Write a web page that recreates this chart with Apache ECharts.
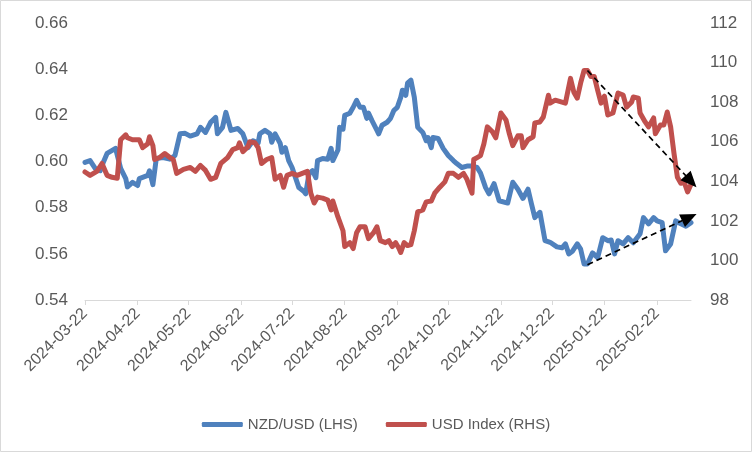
<!DOCTYPE html>
<html>
<head>
<meta charset="utf-8">
<script src="https://cdn.jsdelivr.net/npm/echarts@6/dist/echarts.min.js"></script>
<style>
html,body{margin:0;padding:0;background:#fff;}
#chart{width:752px;height:452px;}
</style>
</head>
<body>
<div id="chart"></div>
<script>
// Axis range (calendar days)
const startDate = '2024-03-22';
const endDate = '2025-03-14';
const leftTicks = { min: 0.54, max: 0.66, interval: 0.02 };
const rightTicks = { min: 98, max: 112, interval: 2 };
const seriesNames = ['NZD/USD (LHS)', 'USD Index (RHS)'];

// NZD/USD (left axis)
const nzdUsd = [
['2024-03-22',0.5996],['2024-03-25',0.6004],['2024-03-28',0.597],['2024-03-31',0.596],['2024-04-02',0.600],
['2024-04-04',0.6035],['2024-04-07',0.6048],['2024-04-09',0.6057],['2024-04-12',0.597],['2024-04-15',0.5926],
['2024-04-16',0.589],['2024-04-19',0.591],['2024-04-22',0.5896],['2024-04-23',0.5926],['2024-04-28',0.594],
['2024-04-29',0.596],['2024-05-01',0.590],['2024-05-03',0.6013],['2024-05-07',0.6017],['2024-05-11',0.601],
['2024-05-14',0.6026],['2024-05-17',0.612],['2024-05-20',0.6122],['2024-05-23',0.611],['2024-05-27',0.612],
['2024-05-29',0.6148],['2024-06-01',0.6126],['2024-06-04',0.617],['2024-06-07',0.6191],['2024-06-08',0.612],
['2024-06-11',0.6148],['2024-06-13',0.6213],['2024-06-16',0.6135],['2024-06-20',0.6143],['2024-06-23',0.612],
['2024-06-26',0.606],['2024-06-29',0.609],['2024-07-02',0.608],['2024-07-03',0.612],['2024-07-06',0.6135],
['2024-07-09',0.612],['2024-07-10',0.6083],['2024-07-12',0.612],['2024-07-15',0.6078],['2024-07-16',0.604],
['2024-07-18',0.606],['2024-07-20',0.6004],['2024-07-22',0.5974],['2024-07-24',0.593],['2024-07-26',0.5887],
['2024-07-29',0.587],['2024-07-30',0.586],['2024-08-01',0.5948],['2024-08-03',0.596],['2024-08-05',0.593],
['2024-08-06',0.6004],['2024-08-09',0.6013],['2024-08-12',0.601],['2024-08-14',0.6057],['2024-08-15',0.6004],
['2024-08-18',0.605],['2024-08-19',0.6148],['2024-08-21',0.614],['2024-08-22',0.620],['2024-08-25',0.6209],
['2024-08-27',0.6235],['2024-08-29',0.6265],['2024-08-31',0.6235],['2024-09-02',0.6235],['2024-09-04',0.6187],
['2024-09-05',0.621],['2024-09-07',0.6178],['2024-09-10',0.6135],['2024-09-11',0.612],['2024-09-13',0.6157],
['2024-09-16',0.617],['2024-09-18',0.6187],['2024-09-20',0.6222],['2024-09-22',0.6235],['2024-09-24',0.6278],
['2024-09-25',0.6309],['2024-09-27',0.6287],['2024-09-28',0.6339],['2024-09-30',0.6352],['2024-10-01',0.636],
['2024-10-02',0.6278],['2024-10-03',0.627],['2024-10-04',0.6148],['2024-10-07',0.6126],['2024-10-09',0.609],
['2024-10-10',0.6104],['2024-10-12',0.606],['2024-10-13',0.6104],['2024-10-16',0.610],['2024-10-19',0.6057],
['2024-10-20',0.606],['2024-10-22',0.6026],['2024-10-25',0.6004],['2024-10-27',0.5991],['2024-10-30',0.5974],
['2024-11-02',0.598],['2024-11-05',0.598],['2024-11-08',0.5974],['2024-11-10',0.595],['2024-11-13',0.5887],
['2024-11-15',0.586],['2024-11-18',0.5904],['2024-11-21',0.583],['2024-11-22',0.583],['2024-11-26',0.582],
['2024-11-29',0.591],['2024-12-02',0.588],['2024-12-05',0.584],['2024-12-08',0.588],['2024-12-10',0.5817],
['2024-12-12',0.5757],['2024-12-15',0.578],['2024-12-18',0.5657],['2024-12-21',0.565],['2024-12-25',0.563],
['2024-12-28',0.5626],['2024-12-30',0.5643],['2025-01-01',0.560],['2025-01-03',0.561],['2025-01-06',0.5643],
['2025-01-08',0.562],['2025-01-10',0.5556],['2025-01-12',0.5556],['2025-01-15',0.5604],['2025-01-18',0.5583],
['2025-01-21',0.567],['2025-01-24',0.5657],['2025-01-26',0.566],['2025-01-28',0.560],['2025-01-30',0.5657],
['2025-02-02',0.5643],['2025-02-05',0.567],['2025-02-08',0.5648],['2025-02-12',0.5687],['2025-02-14',0.5757],
['2025-02-17',0.573],['2025-02-20',0.5757],['2025-02-22',0.5743],['2025-02-25',0.5735],['2025-02-27',0.5613],
['2025-03-02',0.5643],['2025-03-05',0.5743],['2025-03-08',0.573],['2025-03-11',0.572],['2025-03-14',0.5735]
];

// USD Index (right axis)
const usdIndex = [
['2024-03-22',104.47],['2024-03-25',104.3],['2024-03-29',104.5],['2024-04-01',104.9],['2024-04-04',104.3],
['2024-04-07',104.2],['2024-04-10',104.15],['2024-04-12',106.1],['2024-04-15',106.35],['2024-04-16',106.2],
['2024-04-19',106.1],['2024-04-23',106.1],['2024-04-25',105.7],['2024-04-28',105.9],['2024-04-29',106.25],
['2024-05-01',105.8],['2024-05-02',105.1],['2024-05-05',105.2],['2024-05-08',105.4],['2024-05-11',105.2],
['2024-05-13',105.1],['2024-05-15',104.4],['2024-05-19',104.6],['2024-05-23',104.7],['2024-05-26',104.5],
['2024-05-29',104.8],['2024-06-01',104.55],['2024-06-04',104.1],['2024-06-07',104.2],['2024-06-10',104.9],
['2024-06-14',105.2],['2024-06-17',105.6],['2024-06-20',105.7],['2024-06-21',105.94],['2024-06-23',105.5],
['2024-06-26',105.75],['2024-06-27',106.0],['2024-06-30',105.95],['2024-07-02',105.7],['2024-07-04',104.9],
['2024-07-07',105.1],['2024-07-10',105.2],['2024-07-12',104.1],['2024-07-15',104.3],['2024-07-17',103.7],
['2024-07-19',104.3],['2024-07-22',104.4],['2024-07-25',104.3],['2024-07-28',104.4],['2024-07-31',104.5],
['2024-08-02',103.4],['2024-08-04',102.9],['2024-08-06',103.2],['2024-08-09',103.15],['2024-08-12',103.05],
['2024-08-14',102.55],['2024-08-15',103.0],['2024-08-18',102.2],['2024-08-21',101.5],['2024-08-22',100.7],
['2024-08-25',100.9],['2024-08-27',100.6],['2024-08-29',101.4],['2024-08-31',101.7],['2024-09-03',101.7],
['2024-09-05',101.1],['2024-09-08',101.4],['2024-09-10',101.7],['2024-09-12',101.0],['2024-09-15',100.9],
['2024-09-17',101.0],['2024-09-19',100.7],['2024-09-21',100.9],['2024-09-23',100.6],['2024-09-24',100.4],
['2024-09-26',100.9],['2024-09-28',100.75],['2024-09-30',100.8],['2024-10-02',101.5],['2024-10-04',102.45],
['2024-10-07',102.55],['2024-10-09',102.96],['2024-10-12',103.0],['2024-10-14',103.4],['2024-10-17',103.7],
['2024-10-20',103.97],['2024-10-22',104.4],['2024-10-25',104.4],['2024-10-28',104.2],['2024-10-31',104.4],
['2024-11-02',104.1],['2024-11-05',103.4],['2024-11-06',105.1],['2024-11-08',105.2],['2024-11-10',105.3],
['2024-11-12',105.9],['2024-11-14',106.75],['2024-11-17',106.5],['2024-11-19',106.2],['2024-11-22',107.45],
['2024-11-25',107.1],['2024-11-27',106.4],['2024-11-29',105.8],['2024-12-02',106.3],['2024-12-04',106.3],
['2024-12-05',105.7],['2024-12-08',106.1],['2024-12-11',106.25],['2024-12-12',106.95],['2024-12-15',107.0],
['2024-12-17',107.25],['2024-12-20',108.35],['2024-12-21',107.95],['2024-12-24',108.1],['2024-12-28',108.0],
['2024-12-30',107.95],['2025-01-02',109.2],['2025-01-04',108.5],['2025-01-06',108.2],['2025-01-08',108.97],
['2025-01-10',109.6],['2025-01-12',109.6],['2025-01-14',109.3],['2025-01-16',109.3],['2025-01-18',108.6],
['2025-01-20',107.95],['2025-01-22',108.3],['2025-01-24',107.35],['2025-01-27',107.45],['2025-01-30',108.46],
['2025-02-02',108.36],['2025-02-04',107.75],['2025-02-07',108.0],['2025-02-08',108.26],['2025-02-11',108.2],
['2025-02-12',107.45],['2025-02-15',107.0],['2025-02-17',106.75],['2025-02-20',107.2],['2025-02-21',106.4],
['2025-02-24',106.85],['2025-02-26',106.85],['2025-02-28',107.5],['2025-03-02',106.75],['2025-03-04',105.4],
['2025-03-06',104.2],['2025-03-08',103.9],['2025-03-10',103.95],['2025-03-12',103.46],['2025-03-14',103.85]
];

// Trend arrows drawn on the chart
const usdArrow = [['2025-01-12', 109.6], ['2025-03-14', 104.0]];
const nzdArrow = [['2025-01-12', 0.5553], ['2025-03-13', 0.5758]];

// Build the calendar-day categories for the date axis
function buildDays(a, b) {
  const out = [];
  let t = Date.parse(a + 'T00:00:00Z');
  const e = Date.parse(b + 'T00:00:00Z');
  while (t <= e) { out.push(new Date(t).toISOString().slice(0, 10)); t += 86400000; }
  return out;
}
const categories = buildDays(startDate, endDate);
const isTickDay = (i, v) => v.slice(8) === '22';

const FONT = '"Liberation Sans", Arial, sans-serif';
const TXT = '#595959';
const BLUE = '#4F81BD';
const RED = '#C0504D';

const chart = echarts.init(document.getElementById('chart'));
const arrowLine = (pts) => ({
  silent: true,
  symbol: ['none', 'triangle'],
  symbolSize: [14, 16],
  label: { show: false },
  lineStyle: { color: '#000', width: 1.7, type: [6, 4] },
  data: [[{ coord: pts[0] }, { coord: pts[1] }]]
});

chart.setOption({
  animation: false,
  backgroundColor: '#fff',
  graphic: [{
    type: 'rect', shape: { x: 0.5, y: 0.5, width: 751, height: 451 },
    style: { fill: 'none', stroke: '#d9d9d9', lineWidth: 1 }, silent: true
  }],
  grid: { left: 85, right: 61, top: 23, bottom: 152 },
  legend: {
    data: seriesNames,
    left: 'center', top: 412,
    icon: 'roundRect', itemWidth: 41, itemHeight: 5, itemGap: 28,
    textStyle: { fontFamily: FONT, fontSize: 15, color: TXT }
  },
  xAxis: {
    type: 'category', data: categories, boundaryGap: false,
    axisLine: { lineStyle: { color: '#d9d9d9', width: 1 } },
    axisTick: { show: true, interval: isTickDay, length: 5, lineStyle: { color: '#d9d9d9' } },
    axisLabel: { interval: isTickDay, rotate: 45, margin: 11, fontFamily: FONT, fontSize: 16, color: TXT },
    splitLine: { show: false }
  },
  yAxis: [{
    type: 'value', min: leftTicks.min, max: leftTicks.max, interval: leftTicks.interval,
    axisLine: { show: false }, axisTick: { show: false }, splitLine: { show: false },
    axisLabel: { margin: 17, fontFamily: FONT, fontSize: 17, color: TXT, formatter: v => v.toFixed(2) }
  }, {
    type: 'value', min: rightTicks.min, max: rightTicks.max, interval: rightTicks.interval,
    axisLine: { show: false }, axisTick: { show: false }, splitLine: { show: false },
    axisLabel: { margin: 19, fontFamily: FONT, fontSize: 17, color: TXT, formatter: v => String(Math.round(v)) }
  }],
  series: [{
    name: seriesNames[0], type: 'line', yAxisIndex: 0, data: nzdUsd,
    symbol: 'none', color: BLUE,
    lineStyle: { color: BLUE, width: 5, join: 'round', cap: 'round' },
    markLine: arrowLine(nzdArrow), z: 2
  }, {
    name: seriesNames[1], type: 'line', yAxisIndex: 1, data: usdIndex,
    symbol: 'none', color: RED,
    lineStyle: { color: RED, width: 5, join: 'round', cap: 'round' },
    markLine: arrowLine(usdArrow), z: 3
  }]
});
</script>
</body>
</html>
